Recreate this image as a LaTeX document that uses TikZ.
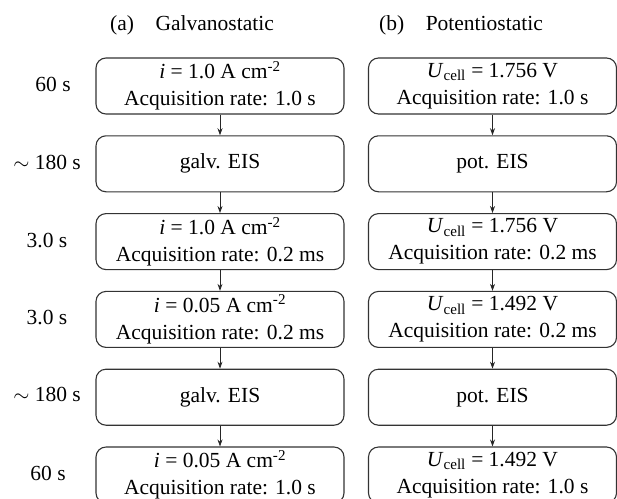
\documentclass[tikz,border=0pt]{standalone}
\usepackage{fontspec}
\setmainfont{Liberation Serif}
\usetikzlibrary{arrows.meta}
\begin{document}
\begin{tikzpicture}[x=1pt,y=-1pt,
  every node/.style={font=\fontsize{21.5}{27}\selectfont},
  box/.style={draw=black!80, line width=1.1pt, rounded corners=10pt, minimum width=248pt, minimum height=56pt, inner sep=0pt, align=center},
  lbl/.style={inner sep=0pt},
  arr/.style={draw=black!85, line width=0.8pt, -{Stealth[length=7pt,width=5pt]}}]
\useasboundingbox (0,0) rectangle (617,498);
\node[lbl] (ha) at (192,25) {(a)\hspace{1em}Galvanostatic};
\node[lbl] (hb) at (461,25) {(b)\hspace{1em}Potentiostatic};
% left column
\node[box] (a1) at (220,86) {\textit{i} = 1.0 A cm\textsuperscript{-2}\\Acquisition rate: 1.0 s};
\node[box] (a2) at (220,163.8) {galv. EIS};
\node[box] (a3) at (220,241.6) {\textit{i} = 1.0 A cm\textsuperscript{-2}\\Acquisition rate: 0.2 ms};
\node[box] (a4) at (220,319.4) {\textit{i} = 0.05 A cm\textsuperscript{-2}\\Acquisition rate: 0.2 ms};
\node[box] (a5) at (220,397.2) {galv. EIS};
\node[box] (a6) at (220,475) {\textit{i} = 0.05 A cm\textsuperscript{-2}\\Acquisition rate: 1.0 s};
% right column
\node[box] (b1) at (492.5,86) {\textit{U}\textsubscript{cell} = 1.756 V\\Acquisition rate: 1.0 s};
\node[box] (b2) at (492.5,163.8) {pot. EIS};
\node[box] (b3) at (492.5,241.6) {\textit{U}\textsubscript{cell} = 1.756 V\\Acquisition rate: 0.2 ms};
\node[box] (b4) at (492.5,319.4) {\textit{U}\textsubscript{cell} = 1.492 V\\Acquisition rate: 0.2 ms};
\node[box] (b5) at (492.5,397.2) {pot. EIS};
\node[box] (b6) at (492.5,475) {\textit{U}\textsubscript{cell} = 1.492 V\\Acquisition rate: 1.0 s};
% row labels
\node[lbl] (t1) at (53,84) {60 s};
\node[lbl] (t2) at (47,162) {$\sim$ 180 s};
\node[lbl] (t3) at (47,240) {3.0 s};
\node[lbl] (t4) at (47,317) {3.0 s};
\node[lbl] (t5) at (47,394) {$\sim$ 180 s};
\node[lbl] (t6) at (48,473) {60 s};
% arrows
\foreach \i/\j in {1/2,2/3,3/4,4/5,5/6}{
  \draw[arr] (a\i.south) -- (a\j.north);
  \draw[arr] (b\i.south) -- (b\j.north);
}
\end{tikzpicture}
\end{document}
